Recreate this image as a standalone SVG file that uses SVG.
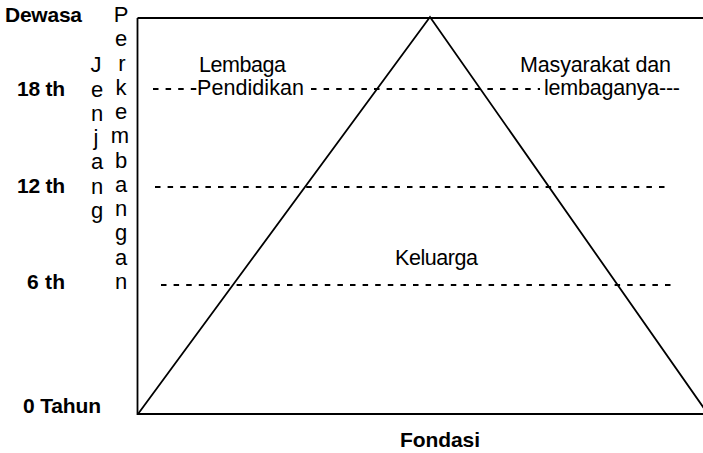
<svg xmlns="http://www.w3.org/2000/svg" width="703" height="453" viewBox="0 0 703 453">
<style>
text{font-family:"Liberation Sans",Arial,sans-serif;fill:#000}
.b{font-weight:bold;font-size:21px}
.r{font-size:21.5px}
.v{font-size:22px;text-anchor:middle}
.ln{stroke:#000;stroke-width:1.8;fill:none}
.d{stroke:#000;stroke-width:2;stroke-dasharray:5.5 7.1;fill:none}
</style>
<rect width="703" height="453" fill="#fff"/>
<g id="frame">
<path class="ln" d="M137.5 18 H703 M137.5 18 V414 H703"/>
<path class="ln" d="M138 414 L430 17 L708 414"/>
</g>
<g id="connectors">
<line class="d" x1="153" y1="89" x2="197" y2="89"/>
<line class="d" x1="311" y1="89" x2="540" y2="89"/>
<line class="d" x1="155" y1="187" x2="668" y2="187"/>
<line class="d" x1="161" y1="285" x2="674" y2="285"/>
</g>
<g id="age-labels">
<text class="b" x="5" y="22" textLength="77">Dewasa</text>
<text class="b" x="17" y="96" textLength="48">18 th</text>
<text class="b" x="17" y="193" textLength="48">12 th</text>
<text class="b" x="27" y="289" textLength="38">6 th</text>
<text class="b" x="23" y="413" textLength="78">0 Tahun</text>
<text class="b" x="400" y="447" textLength="80">Fondasi</text>
</g>
<g id="jenjang">
<text class="v" x="96" y="72">J</text>
<text class="v" x="97" y="96.5">e</text>
<text class="v" x="97" y="120.8">n</text>
<text class="v" x="96" y="145">j</text>
<text class="v" x="97" y="169.3">a</text>
<text class="v" x="97" y="193.6">n</text>
<text class="v" x="97" y="217.8">g</text>
</g>
<g id="perkembangan">
<text class="v" x="121" y="22">P</text>
<text class="v" x="121" y="46.3">e</text>
<text class="v" x="122" y="70.5">r</text>
<text class="v" x="121" y="94.8">k</text>
<text class="v" x="121" y="119">e</text>
<text class="v" x="120" y="143.3">m</text>
<text class="v" x="121" y="167.6">b</text>
<text class="v" x="121" y="191.9">a</text>
<text class="v" x="121" y="216.1">n</text>
<text class="v" x="121" y="240.4">g</text>
<text class="v" x="121" y="264.7">a</text>
<text class="v" x="121" y="289">n</text>
</g>
<g id="lembaga-pendidikan">
<text class="r" x="199" y="72" textLength="87">Lembaga</text>
<text class="r" x="197" y="95" textLength="107">Pendidikan</text>
</g>
<g id="masyarakat">
<text class="r" x="520" y="72" textLength="151">Masyarakat dan</text>
<text class="r" x="544" y="95" textLength="136">lembaganya---</text>
</g>
<g id="keluarga">
<text class="r" x="395" y="265" textLength="83">Keluarga</text>
</g>
</svg>
